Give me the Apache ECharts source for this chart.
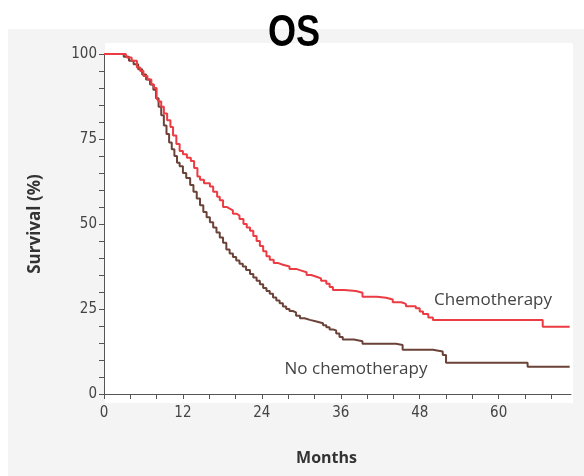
<!DOCTYPE html>
<html>
<head>
<meta charset="utf-8">
<script src="https://cdn.jsdelivr.net/npm/echarts@6/dist/echarts.min.js"></script>
<style>
html,body{margin:0;padding:0;background:#fff;}
#chart{width:584px;height:476px;}
</style>
</head>
<body>
<div id="chart"></div>
<script>
// ---- Data ----
const chemoTimes = [0, 3.3, 3.5, 4.2, 5.0, 5.5, 6.0, 6.6, 7.2, 7.6, 8.0, 8.3, 8.7, 9.1, 9.6, 10.1, 10.5, 11.0, 11.5, 12.0, 12.6, 13.2, 13.7, 14.2, 14.6, 15.2, 16.1, 16.6, 17.2, 17.6, 18.1, 18.7, 19.1, 19.6, 20.2, 20.6, 21.2, 21.7, 22.2, 22.7, 23.2, 23.7, 24.2, 24.7, 25.2, 25.8, 26.5, 27.2, 28.2, 29.2, 30.0, 30.8, 31.5, 32.3, 33.0, 33.8, 34.3, 34.8, 36.5, 38.3, 39.3, 41.5, 42.9, 43.9, 45.2, 45.9, 47.4, 48.0, 48.5, 49.3, 50.0, 66.7, 70.8];
const chemoSurv  = [100, 100, 99, 98, 96, 95, 93.5, 92.5, 91, 90, 87, 86, 84.5, 82.5, 80.5, 78.5, 76, 73.5, 71.5, 70.5, 69.5, 68.5, 66.5, 64, 63, 62, 61, 59.5, 58, 57, 55, 54.5, 54, 53, 52.5, 51.5, 50, 49, 48, 46.5, 45, 43.5, 42, 40.5, 39.5, 38.5, 38, 37.5, 36.8, 36.3, 35.8, 35, 34.5, 34, 33.3, 32.4, 31.5, 30.6, 30.3, 29.8, 28.6, 28.3, 27.8, 27, 26.5, 25.8, 25.2, 24.3, 23.5, 22.5, 21.8, 19.8, 19.8];

const noChemoTimes = [0, 2.5, 3.0, 3.8, 4.5, 5.2, 5.8, 6.4, 7.0, 7.5, 7.9, 8.3, 8.7, 9.1, 9.5, 9.9, 10.3, 10.7, 11.1, 11.5, 12.0, 12.5, 13.1, 13.6, 14.1, 14.6, 15.1, 15.6, 16.1, 16.6, 17.1, 17.6, 18.1, 18.6, 19.1, 19.6, 20.1, 20.6, 21.1, 21.6, 22.2, 22.7, 23.2, 23.7, 24.2, 24.7, 25.2, 25.7, 26.2, 26.7, 27.2, 27.7, 28.2, 28.7, 29.2, 29.8, 30.5, 31.3, 32.3, 33.3, 33.8, 34.3, 34.8, 35.3, 35.8, 36.3, 38.0, 39.3, 44.4, 45.4, 50.0, 51.5, 52.0, 64.4, 70.8];
const noChemoSurv  = [100, 100, 99.2, 98, 97, 95.5, 94, 92.5, 91, 89.5, 87, 84.5, 82, 79, 76.5, 74, 72, 70, 68, 67, 65, 63.5, 61.5, 59.5, 57.5, 55.5, 53.5, 52, 50.5, 49, 47.5, 46, 44.5, 42.5, 41.3, 40.3, 39.3, 38.3, 37.5, 36.5, 35.3, 34.3, 33.3, 32.3, 31.2, 30.3, 29.5, 28.4, 27.5, 26.7, 25.7, 25, 24.4, 24, 23, 22.3, 21.8, 21.3, 20.8, 20.2, 19.6, 19, 18.7, 17.8, 16.8, 16, 15.5, 14.8, 14.4, 13, 12.5, 11.5, 9.2, 8, 8];

const xTickLabels = [0, 12, 24, 36, 48, 60];
const yTickLabels = [0, 25, 50, 75, 100];
const seriesNames = ['Chemotherapy', 'No chemotherapy'];
const titleText = 'OS';
const xAxisTitle = 'Months';
const yAxisTitle = 'Survival (%)';

const zip = (a, b) => a.map((v, i) => [v, b[i]]);

const chart = echarts.init(document.getElementById('chart'), null, {renderer: 'canvas'});
const tickFont = '"DejaVu Sans Condensed", "DejaVu Sans", sans-serif';
const option = {
  backgroundColor: '#ffffff',
  animation: false,
  graphic: [
    {type: 'rect', z: -10, shape: {x: 8, y: 29, width: 576, height: 447}, style: {fill: '#f4f4f4'}, silent: true},
    {type: 'rect', z: -9, shape: {x: 105, y: 43, width: 468, height: 360}, style: {fill: '#ffffff'}, silent: true},
    {type: 'text', z: 10, x: 294, y: 34, scaleX: 0.82, style: {x: 0, y: 0, text: titleText, align: 'center', verticalAlign: 'middle', font: 'bold 44px "Liberation Sans", Arial, sans-serif', fill: '#000'}},
    {type: 'text', z: 10, style: {x: 493, y: 300, text: seriesNames[0], align: 'center', verticalAlign: 'middle', font: '17px "Open Sans", sans-serif', fill: '#444'}},
    {type: 'text', z: 10, style: {x: 356, y: 369, text: seriesNames[1], align: 'center', verticalAlign: 'middle', font: '17px "Open Sans", sans-serif', fill: '#444'}}
  ],
  grid: {left: 104, top: 54, right: 13, bottom: 82, containLabel: false},
  xAxis: {
    type: 'value', min: 0, max: 71, interval: 4,
    name: xAxisTitle, nameLocation: 'middle', nameGap: 56,
    nameTextStyle: {fontFamily: '"Open Sans", sans-serif', fontWeight: 'bold', fontSize: 16, color: '#333', padding: [0, 22, 0, 0]},
    axisLine: {show: true, lineStyle: {color: '#555', width: 1}},
    axisTick: {show: true, length: 5, lineStyle: {color: '#555'}},
    splitLine: {show: false},
    axisLabel: {
      margin: 12, color: '#444', fontSize: 15, fontFamily: tickFont, showMaxLabel: false,
      formatter: v => (xTickLabels.indexOf(v) >= 0 ? String(v) : '')
    }
  },
  yAxis: {
    type: 'value', min: 0, max: 100, interval: 5,
    name: yAxisTitle, nameLocation: 'middle', nameGap: 60, nameRotate: 90,
    nameTextStyle: {fontFamily: '"Open Sans", sans-serif', fontWeight: 'bold', fontSize: 17, color: '#333'},
    axisLine: {show: true, lineStyle: {color: '#555', width: 1}},
    axisTick: {show: true, length: 5, lineStyle: {color: '#555'}},
    splitLine: {show: false},
    axisLabel: {
      margin: 7, color: '#444', fontSize: 15, fontFamily: tickFont,
      formatter: v => (yTickLabels.indexOf(v) >= 0 ? String(v) : '')
    }
  },
  series: [
    {
      name: seriesNames[1], type: 'line', step: 'end', showSymbol: false, symbol: 'none',
      data: zip(noChemoTimes, noChemoSurv),
      lineStyle: {color: '#6b4238', width: 2}, z: 3
    },
    {
      name: seriesNames[0], type: 'line', step: 'end', showSymbol: false, symbol: 'none',
      data: zip(chemoTimes, chemoSurv),
      lineStyle: {color: '#ec3b42', width: 2}, z: 4
    }
  ]
};
chart.setOption(option);
</script>
</body>
</html>
